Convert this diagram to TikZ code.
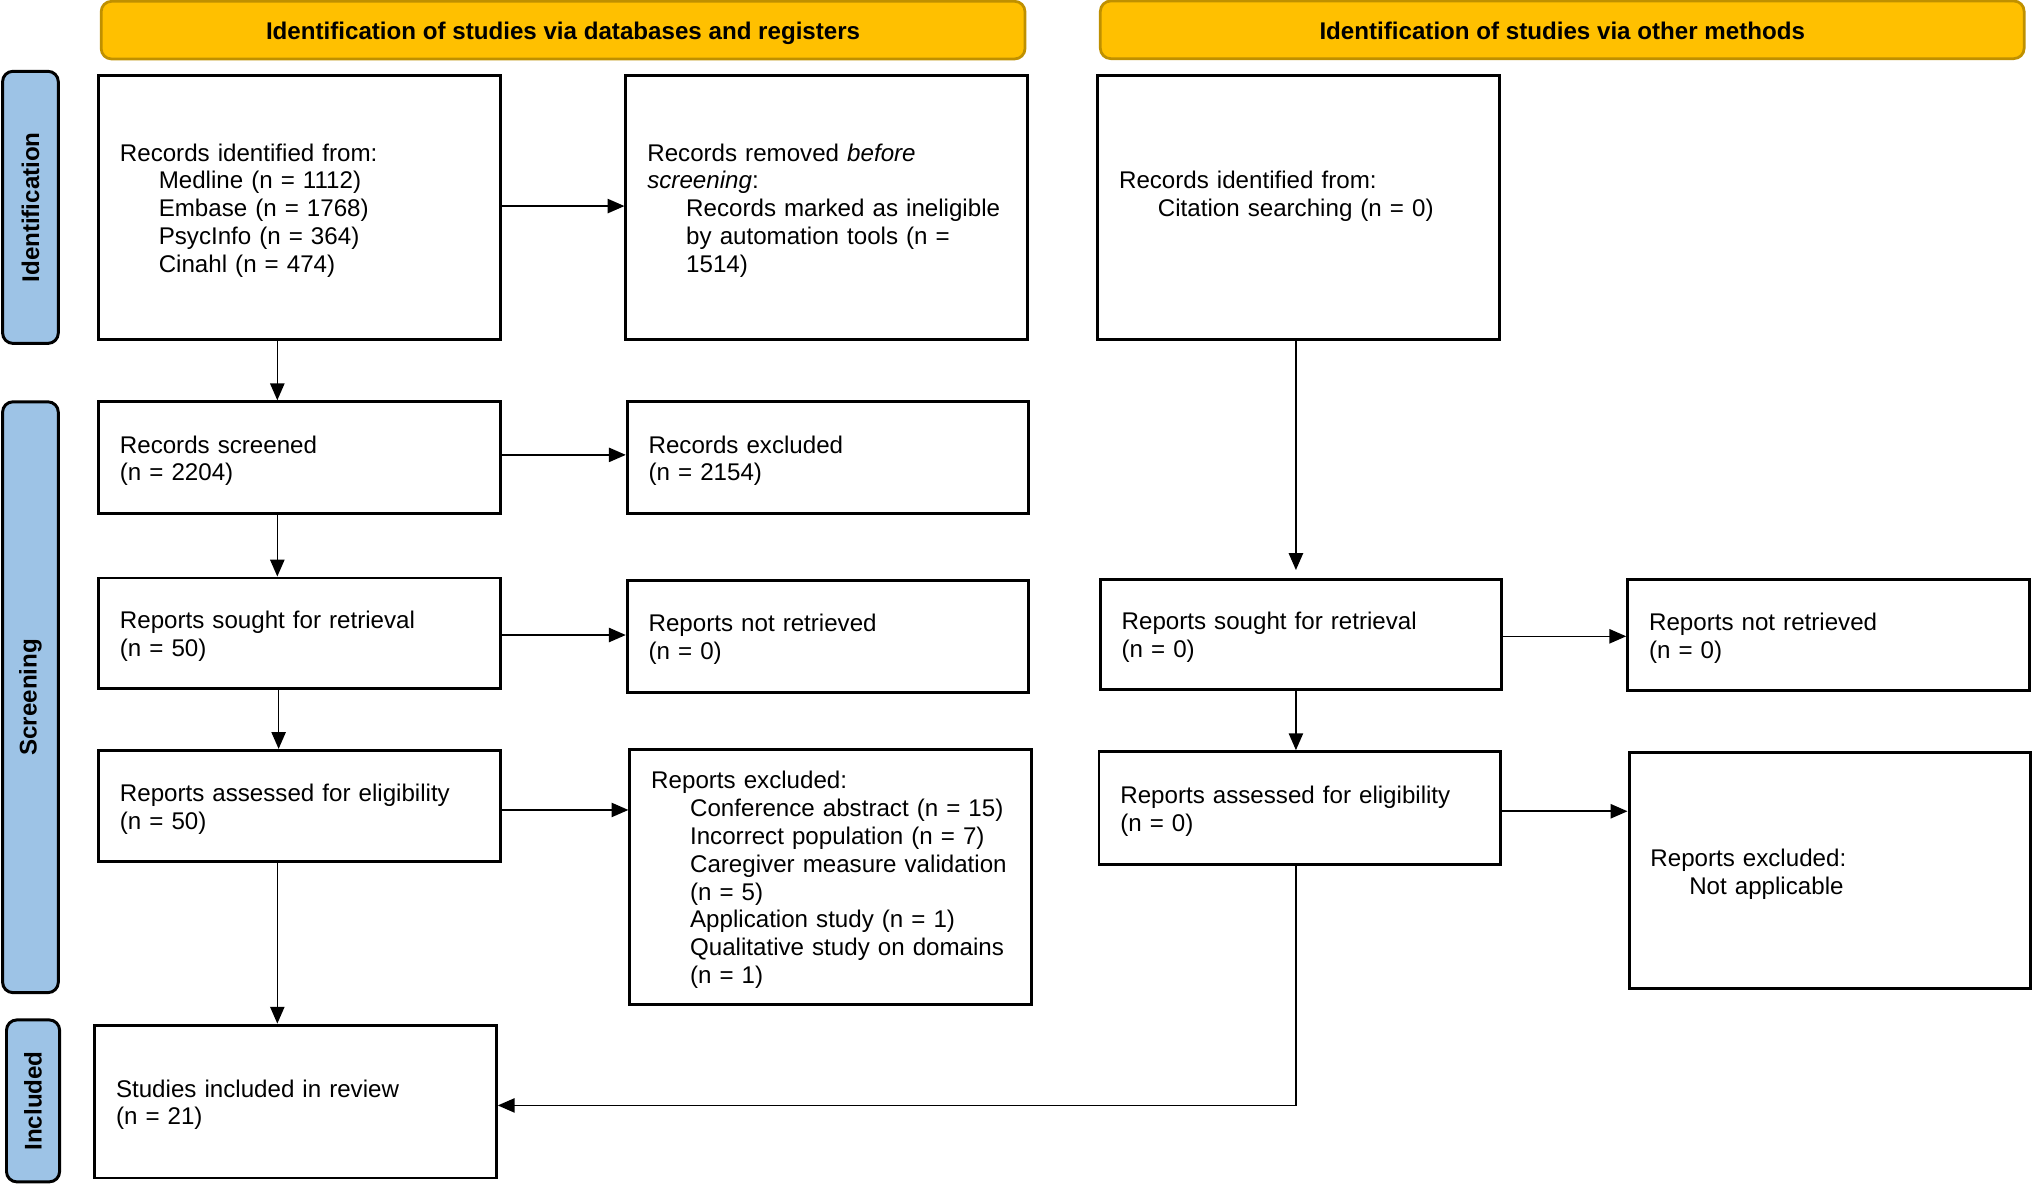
\documentclass[tikz,border=0pt]{standalone}
\usepackage{fontspec}
\setmainfont{Liberation Sans}
\usetikzlibrary{arrows.meta}
\definecolor{gold}{HTML}{FFC000}
\definecolor{golddark}{HTML}{BF9000}
\definecolor{sideblue}{HTML}{9DC3E6}
\newcommand\fs{\fontsize{10.6}{12.24}\selectfont}
\newcommand\ind{\hspace*{0.6cm}}
\newcommand\tp{\rule{0pt}{0.37cm}}
\begin{document}
\begin{tikzpicture}[x=0.02cm,y=-0.02cm,
  box/.style={draw, line width=1.3pt, inner xsep=0.33cm, inner ysep=0pt, text width=5.54cm, minimum width=6.2cm, align=left, font=\fs},
  head/.style={draw=golddark, fill=gold, line width=1.2pt, rounded corners=0.16cm, minimum height=0.89cm, minimum width=14.26cm, font=\fs\bfseries, text height=0.82em, text depth=0pt},
  side/.style={draw=black, fill=sideblue, line width=1.3pt, rounded corners=0.16cm, rotate=90, font=\fs\bfseries, inner sep=0pt},
  arr/.style={line width=0.7pt, -{Triangle[length=0.26cm,width=0.22cm]}},
]
\useasboundingbox (0,0) rectangle (1568,914);

% headers
\node[head] (h1) at (434.5,23.25) {Identification of studies via databases and registers};
\node[head] (h2) at (1205.5,23) {Identification of studies via other methods};

% side bars
\node[side, minimum width=4.2cm, minimum height=0.86cm] (s1) at (23.5,160) {Identification};
\node[side, minimum width=9.12cm, minimum height=0.86cm] (s2) at (23.5,538) {Screening};
\node[side, minimum width=2.5cm, minimum height=0.82cm] (s3) at (25.5,849.5) {Included};

% left column
\node[box, minimum height=4.08cm] (B1) at (231,160) {\tp Records identified from:\\ \ind Medline (n = 1112)\\ \ind Embase (n = 1768)\\ \ind PsycInfo (n = 364)\\ \ind Cinahl (n = 474)};
\node[box, minimum height=4.08cm] (B2) at (638,160) {\tp Records removed \emph{before}\\ \emph{screening}:\\ \ind Records marked as ineligible\\ \ind by automation tools (n =\\ \ind 1514)};
\node[box, minimum height=1.72cm] (B3) at (231,353) {\tp Records screened\\ (n = 2204)};
\node[box, minimum height=1.72cm] (B4) at (639,353) {\tp Records excluded\\ (n = 2154)};
\node[box, minimum height=1.70cm] (B5) at (231,488.5) {\tp Reports sought for retrieval\\ (n = 50)};
\node[box, minimum height=1.72cm] (B6) at (639,491) {\tp Reports not retrieved\\ (n = 0)};
\node[box, minimum height=1.72cm] (B7) at (231,622) {\tp Reports assessed for eligibility\\ (n = 50)};
\node[box, minimum height=3.94cm] (B8) at (641,676.5) {\tp Reports excluded:\\ \ind Conference abstract (n = 15)\\ \ind Incorrect population (n = 7)\\ \ind \mbox{Caregiver measure validation}\\ \ind (n = 5)\\ \ind Application study (n = 1)\\ \ind \mbox{Qualitative study on domains}\\ \ind (n = 1)};
\node[box, minimum height=2.36cm] (B9) at (228,850) {\tp Studies included in review\\ (n = 21)};

% right column
\node[box, minimum height=4.08cm] (R1) at (1002,160) {Records identified from:\\ \ind Citation searching (n = 0)\\ ~};
\node[box, minimum height=1.70cm] (R2) at (1004,489.5) {\tp Reports sought for retrieval\\ (n = 0)};
\node[box, minimum height=1.72cm] (R3) at (1411,490) {\tp Reports not retrieved\\ (n = 0)};
\node[box, minimum height=1.74cm] (R4) at (1003,623.5) {\tp Reports assessed for eligibility\\ (n = 0)};
\node[box, minimum height=3.64cm] (R5) at (1412,672) {\tp Reports excluded:\\ \ind Not applicable};

% connector guides
\coordinate (xa) at (214,0);
\coordinate (xb) at (215,0);
\coordinate (xr) at (1000,0);
\coordinate (y1) at (0,159);
\coordinate (y2) at (0,351);
\coordinate (y3) at (0,490);
\coordinate (y4) at (0,625);
\coordinate (y5) at (0,491);
\coordinate (y6) at (0,626);
\coordinate (y7) at (0,853);

% connectors
\draw[arr] (B1.east |- y1) -- (B2.west |- y1);
\draw[arr] (B1.south -| xa) -- (B3.north -| xa);
\draw[arr] (B3.east |- y2) -- (B4.west |- y2);
\draw[arr] (B3.south -| xa) -- (B5.north -| xa);
\draw[arr] (B5.east |- y3) -- (B6.west |- y3);
\draw[arr] (B5.south -| xb) -- (B7.north -| xb);
\draw[arr] (B7.east |- y4) -- (B8.west |- y4);
\draw[arr] (B7.south -| xa) -- (B9.north -| xa);
\draw[arr, shorten >=0.12cm] (R1.south -| xr) -- (R2.north -| xr);
\draw[arr] (R2.east |- y5) -- (R3.west |- y5);
\draw[arr] (R2.south -| xr) -- (R4.north -| xr);
\draw[arr] (R4.east |- y6) -- (R5.west |- y6);
\draw[arr] (R4.south -| xr) |- (B9.east |- y7);
\end{tikzpicture}
\end{document}
